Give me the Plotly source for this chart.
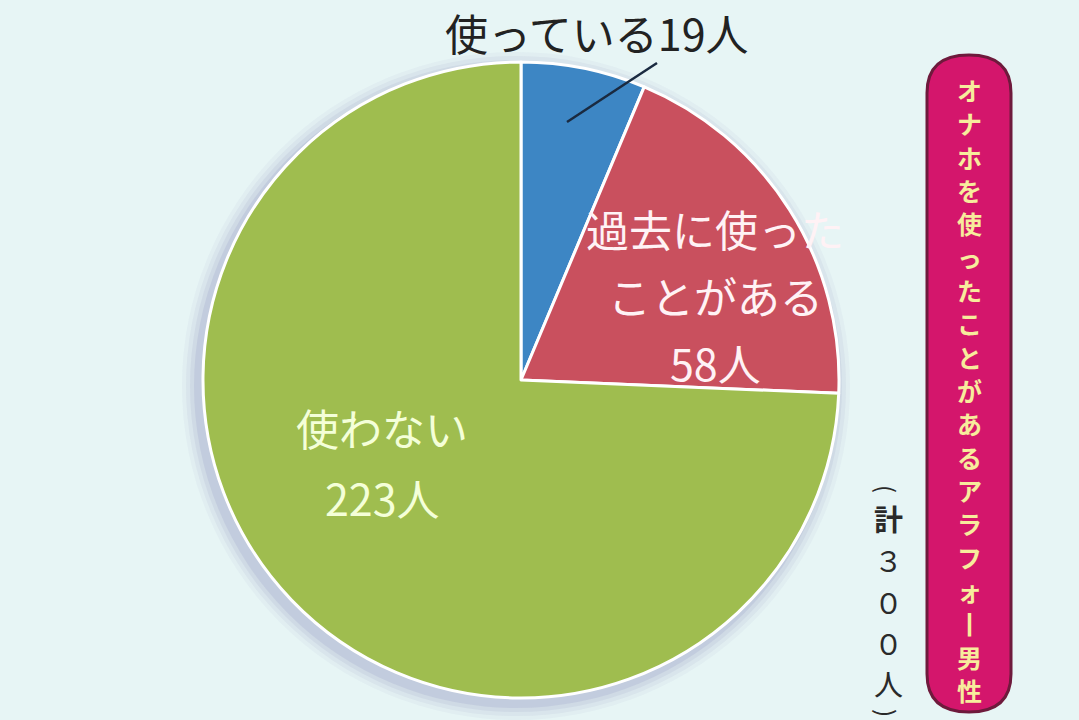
import plotly.graph_objects as go

W, H = 1079, 720

# ---- data ----
categories = ["使っている", "過去に使ったことがある", "使わない"]
counts = [19, 58, 223]
slice_colors = ["#3d86c4", "#c9505e", "#9fbd4f"]
title_text = "オナホを使ったことがあるアラフォー男性"
total_chars = ["計", "３", "０", "０", "人"]

def px(x):
    return x / W

def py(y):
    return 1 - y / H

FONT = "Noto Sans CJK JP"

# pie geometry (pixels)
cx, cy, r = 521, 380, 318

fig = go.Figure()
fig.add_trace(go.Pie(
    labels=categories,
    values=counts,
    sort=False,
    direction="clockwise",
    rotation=0,
    textinfo="none",
    hoverinfo="label+value",
    marker=dict(colors=slice_colors, line=dict(color="#ffffff", width=3)),
    domain=dict(x=[px(cx - r), px(cx + r)], y=[py(cy + r), py(cy - r)]),
    showlegend=False,
))

shapes = []
# soft shadow behind the pie (offset left / down)
for grow, op in [(16, 0.05), (12, 0.07), (8, 0.09), (4, 0.12)]:
    ox, oy = -5, 6
    shapes.append(dict(
        type="circle", xref="paper", yref="paper", layer="below",
        x0=px(cx - r - grow + ox), x1=px(cx + r + grow + ox),
        y0=py(cy + r + grow + oy), y1=py(cy - r - grow + oy),
        fillcolor=f"rgba(110,110,170,{op})", line=dict(width=0),
    ))

# leader line for small slice
shapes.append(dict(type="line", xref="paper", yref="paper",
                   x0=px(567), y0=py(122), x1=px(657), y1=py(63),
                   line=dict(color="#1a2a40", width=2.5)))

# rounded title box
bx0, bx1, by0, by1, rad = 927, 1011, 55, 712, 38
path = (f"M {px(bx0)},{py(by0 + rad)} "
        f"Q {px(bx0)},{py(by0)} {px((bx0 + bx1) / 2)},{py(by0)} "
        f"Q {px(bx1)},{py(by0)} {px(bx1)},{py(by0 + rad)} "
        f"L {px(bx1)},{py(by1 - rad)} "
        f"Q {px(bx1)},{py(by1)} {px((bx0 + bx1) / 2)},{py(by1)} "
        f"Q {px(bx0)},{py(by1)} {px(bx0)},{py(by1 - rad)} Z")
shapes.append(dict(type="path", xref="paper", yref="paper", path=path,
                   fillcolor="#d4166c", line=dict(color="#6e1a3c", width=3)))

annotations = []

def add_text(text, x, y, size, color, bold=False, angle=0):
    annotations.append(dict(
        text=f"<b>{text}</b>" if bold else text,
        x=px(x), y=py(y), xref="paper", yref="paper",
        xanchor="center", yanchor="middle", showarrow=False,
        textangle=angle, borderpad=0,
        font=dict(family=FONT, size=size, color=color),
    ))

# slice labels
add_text(f"{categories[0]}{counts[0]}人", 597, 32, 43, "#222222")

red_lines = ["過去に使った", "ことがある", f"{counts[1]}人"]
for i, t in enumerate(red_lines):
    add_text(t, 715, 228 + i * 67, 43, "#fff2f5")

green_lines = ["使わない", f"{counts[2]}人"]
for i, t in enumerate(green_lines):
    add_text(t, 382, 427 + i * 70, 43, "#f4ffd8")

# vertical title text in box (one character each)
vchars = [("丨" if c == "ー" else c) for c in title_text]
n = len(vchars)
for i, c in enumerate(vchars):
    add_text(c, 969, 90 + i * (600 / (n - 1)), 25, "#f7ec9c", bold=True)

# vertical total text
tys = [518, 559, 601, 642, 683]
for c, y in zip(total_chars, tys):
    add_text(c, 888, y, 29, "#2a2a2a", bold=(c == "計"))
add_text("(", 888, 489, 24, "#2a2a2a", angle=90)
add_text(")", 888, 713, 24, "#2a2a2a", angle=90)

fig.update_layout(
    width=W, height=H,
    margin=dict(l=0, r=0, t=0, b=0),
    paper_bgcolor="#e7f5f5",
    plot_bgcolor="#e7f5f5",
    shapes=shapes,
    annotations=annotations,
    showlegend=False,
)

fig.write_html(
    "out.html",
    config={"displayModeBar": False},
    post_script="document.body.style.margin='0';document.body.style.background='#e7f5f5';",
)
